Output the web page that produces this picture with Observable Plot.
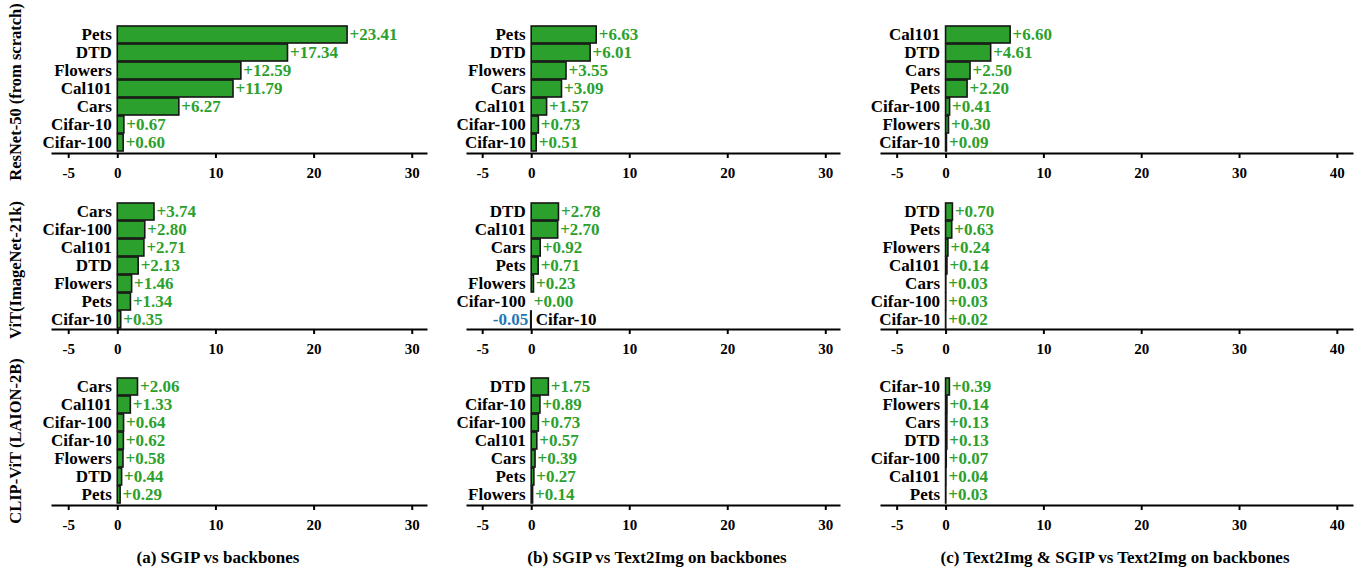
<!DOCTYPE html>
<html><head><meta charset="utf-8">
<script src="https://cdn.jsdelivr.net/npm/d3@7"></script>
<script src="https://cdn.jsdelivr.net/npm/@observablehq/plot@0.6"></script>
<style>
body{margin:0;background:#fff}
#fig{position:relative;width:1361px;height:572px;font-family:"Liberation Serif","Times New Roman",serif;font-weight:bold;color:#000}
.pl{position:absolute}
.pl svg{overflow:visible}
.rowlab{position:absolute;transform:translate(-50%,-50%) rotate(-90deg);white-space:nowrap;font-size:16.5px;line-height:1}
.cap{position:absolute;transform:translate(-50%,-50%);font-size:17px;white-space:nowrap;line-height:1}
</style></head>
<body><div id="fig"></div>
<script>
const rowLabels = ["ResNet-50 (from scratch)", "ViT(ImageNet-21k)", "CLIP-ViT (LAION-2B)"];
const captions = ["(a) SGIP vs backbones", "(b) SGIP vs Text2Img on backbones", "(c) Text2Img & SGIP vs Text2Img on backbones"];
const ticksAB = [-5, 0, 10, 20, 30];
const ticksC = [-5, 0, 10, 20, 30, 40];

// Row 1: ResNet-50 (from scratch)
const catsA1 = ["Pets", "DTD", "Flowers", "Cal101", "Cars", "Cifar-10", "Cifar-100"];
const valsA1 = [23.41, 17.34, 12.59, 11.79, 6.27, 0.67, 0.60];
const catsB1 = ["Pets", "DTD", "Flowers", "Cars", "Cal101", "Cifar-100", "Cifar-10"];
const valsB1 = [6.63, 6.01, 3.55, 3.09, 1.57, 0.73, 0.51];
const catsC1 = ["Cal101", "DTD", "Cars", "Pets", "Cifar-100", "Flowers", "Cifar-10"];
const valsC1 = [6.60, 4.61, 2.50, 2.20, 0.41, 0.30, 0.09];
// Row 2: ViT(ImageNet-21k)
const catsA2 = ["Cars", "Cifar-100", "Cal101", "DTD", "Flowers", "Pets", "Cifar-10"];
const valsA2 = [3.74, 2.80, 2.71, 2.13, 1.46, 1.34, 0.35];
const catsB2 = ["DTD", "Cal101", "Cars", "Pets", "Flowers", "Cifar-100", "Cifar-10"];
const valsB2 = [2.78, 2.70, 0.92, 0.71, 0.23, 0.00, -0.05];
const catsC2 = ["DTD", "Pets", "Flowers", "Cal101", "Cars", "Cifar-100", "Cifar-10"];
const valsC2 = [0.70, 0.63, 0.24, 0.14, 0.03, 0.03, 0.02];
// Row 3: CLIP-ViT (LAION-2B)
const catsA3 = ["Cars", "Cal101", "Cifar-100", "Cifar-10", "Flowers", "DTD", "Pets"];
const valsA3 = [2.06, 1.33, 0.64, 0.62, 0.58, 0.44, 0.29];
const catsB3 = ["DTD", "Cifar-10", "Cifar-100", "Cal101", "Cars", "Pets", "Flowers"];
const valsB3 = [1.75, 0.89, 0.73, 0.57, 0.39, 0.27, 0.14];
const catsC3 = ["Cifar-10", "Flowers", "Cars", "DTD", "Cifar-100", "Cal101", "Pets"];
const valsC3 = [0.39, 0.14, 0.13, 0.13, 0.07, 0.04, 0.03];

const panels = [
  [[catsA1, valsA1], [catsB1, valsB1], [catsC1, valsC1]],
  [[catsA2, valsA2], [catsB2, valsB2], [catsC2, valsC2]],
  [[catsA3, valsA3], [catsB3, valsB3], [catsC3, valsC3]]
];

// layout
const cols = [
  {x0: 52, x1: 426, domain: [-6.65, 31.45], ticks: ticksAB, cap: 218},
  {x0: 467, x1: 839, domain: [-6.55, 31.4], ticks: ticksAB, cap: 657},
  {x0: 881, x1: 1352, domain: [-6.6, 41.55], ticks: ticksC, cap: 1115}
];
const rows = [
  {top: 24, bottom: 153, lab: 92},
  {top: 200.5, bottom: 328.5, lab: 270},
  {top: 376, bottom: 505, lab: 441}
];
const GREEN = "#2ca02c", BLUE = "#1f77b4";
const FONT = '"Liberation Serif","Times New Roman",serif';
const fig = document.getElementById("fig");

function fmt(v) { return (v < 0 ? "-" : "+") + Math.abs(v).toFixed(2); }

function panel(cats, vals, col, row) {
  const data = cats.map((c, i) => ({cat: c, v: vals[i]}));
  const pos = data.filter(d => d.v >= 0), neg = data.filter(d => d.v < 0);
  const w = col.x1 - col.x0, h = row.bottom - row.top, mb = 40;
  return Plot.plot({
    width: w, height: h + mb,
    marginLeft: 0, marginRight: 0, marginTop: 0, marginBottom: mb,
    style: {overflow: "visible", background: "transparent", fontFamily: FONT, fontWeight: "bold", fontSize: "15px", color: "#000"},
    x: {domain: col.domain},
    y: {domain: cats, axis: null, paddingInner: 0.06, paddingOuter: 0.01},
    marks: [
      Plot.barX(data, {x1: 0, x2: "v", y: "cat", fill: GREEN, stroke: "#151515", strokeWidth: 1.6}),
      Plot.text(pos, {x: 0, y: "cat", text: "cat", textAnchor: "end", dx: -6, fontSize: 17, fill: "#000"}),
      Plot.text(neg, {x: 0, y: "cat", text: "cat", textAnchor: "start", dx: 4, fontSize: 17, fill: "#000"}),
      Plot.text(pos, {x: "v", y: "cat", text: d => fmt(d.v), textAnchor: "start", dx: 2, fontSize: 17, fill: GREEN}),
      Plot.text(neg, {x: "v", y: "cat", text: d => fmt(d.v), textAnchor: "end", dx: -3, fontSize: 17, fill: BLUE}),
      Plot.axisX({ticks: col.ticks, tickFormat: d => String(d), tickSize: 5, tickPadding: 9, strokeWidth: 2, label: null, fontSize: 15}),
      Plot.frame({anchor: "bottom", strokeWidth: 2, stroke: "#000"})
    ]
  });
}

rows.forEach((row, r) => {
  cols.forEach((col, c) => {
    const [cats, vals] = panels[r][c];
    const div = document.createElement("div");
    div.className = "pl";
    div.style.left = col.x0 + "px";
    div.style.top = row.top + "px";
    div.appendChild(panel(cats, vals, col, row));
    fig.appendChild(div);
  });
  const lab = document.createElement("div");
  lab.className = "rowlab";
  lab.style.left = "16px";
  lab.style.top = row.lab + "px";
  lab.textContent = rowLabels[r];
  fig.appendChild(lab);
});
cols.forEach((col, c) => {
  const cap = document.createElement("div");
  cap.className = "cap";
  cap.style.left = col.cap + "px";
  cap.style.top = "557px";
  cap.textContent = captions[c];
  fig.appendChild(cap);
});
</script>
</body></html>
